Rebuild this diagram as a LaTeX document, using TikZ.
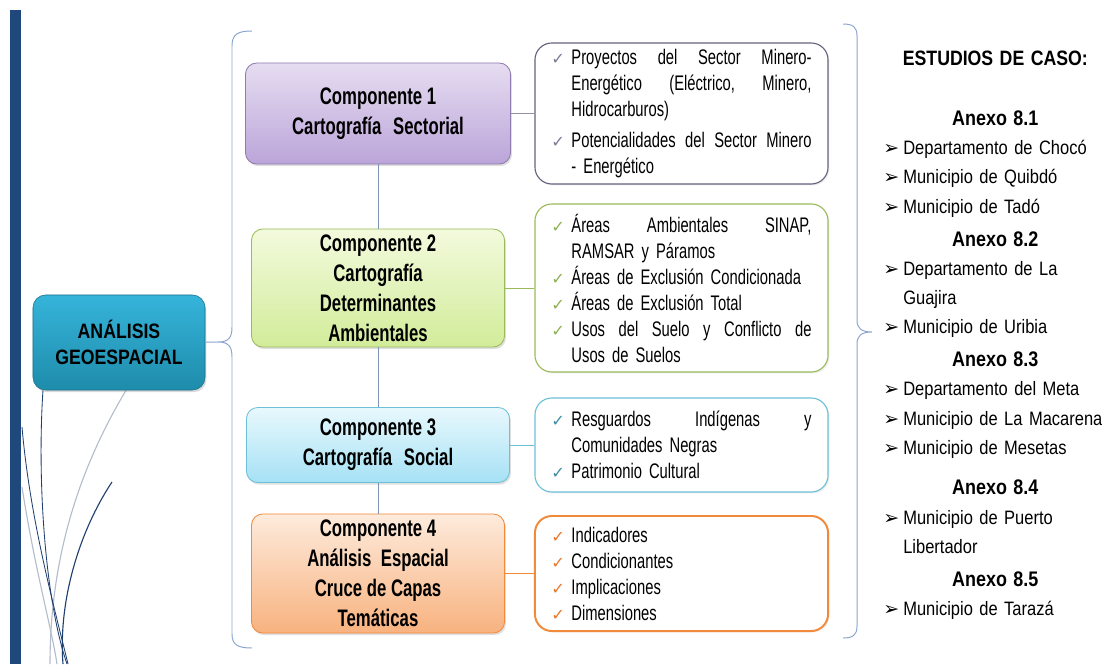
\documentclass[tikz,border=0pt]{standalone}
\usepackage{fontspec}
\setmainfont{Liberation Sans}[FakeStretch=0.7]
\newfontfamily\casofont{Liberation Sans}[FakeStretch=0.85]
\newfontfamily\symfont{DejaVu Sans}
\usetikzlibrary{shadows}

\definecolor{barblue}{HTML}{1F497D}
\definecolor{bracecol}{HTML}{8CA5CD}
\definecolor{linkcol}{HTML}{7F93B4}
\definecolor{darkcurve}{HTML}{1F3F70}
\definecolor{greycurve}{HTML}{B4BCCB}
\definecolor{geotop}{HTML}{36B4DA}
\definecolor{geobot}{HTML}{1E8CAB}
\definecolor{lilatop}{HTML}{E6DDF1}
\definecolor{lilabot}{HTML}{BBA5D9}
\definecolor{lilaline}{HTML}{8F7BAE}
\definecolor{verdetop}{HTML}{F3FADD}
\definecolor{verdebot}{HTML}{D2EC9A}
\definecolor{verdeline}{HTML}{9BBB59}
\definecolor{celestetop}{HTML}{E8F8FD}
\definecolor{celestebot}{HTML}{A6E1F5}
\definecolor{celesteline}{HTML}{6CC0D8}
\definecolor{naranjatop}{HTML}{FDEBDC}
\definecolor{naranjabot}{HTML}{F8B27F}
\definecolor{naranjaline}{HTML}{F28A3C}
\definecolor{grisline}{HTML}{66627F}
\definecolor{ckgris}{HTML}{7A7C96}
\definecolor{ckverde}{HTML}{8DB255}
\definecolor{ckteal}{HTML}{3C8EA6}
\definecolor{cknaranja}{HTML}{E8782A}

\newcommand{\chk}[1]{\makebox[0.5cm][l]{\textcolor{#1}{\symfont\fontsize{11.5}{10}\selectfont ✓}}}
\newcommand{\ind}{\makebox[0.5cm]{}}
\newcommand{\fillline}[1]{\hbox to 6cm{#1}}
\newcommand{\arr}{\makebox[0.5cm][l]{\symfont\fontsize{13.5}{10}\selectfont ➢}}
\newcommand{\anexo}[1]{\makebox[\linewidth][c]{\bfseries\fontsize{15}{21}\selectfont #1}}

\begin{document}
\begin{tikzpicture}[x=0.025cm, y=-0.025cm,
    comp/.style={rectangle, rounded corners=8pt, draw=#1, line width=0.6pt, align=center,
        inner sep=1pt, font=\fontsize{17}{21.3}\selectfont\bfseries,
        drop shadow={opacity=0.25, shadow xshift=1pt, shadow yshift=-1.5pt}},
    desc/.style={rectangle, rounded corners=12pt, draw=#1, fill=white, line width=0.8pt,
        minimum width=7.325cm, text width=6.5cm, inner xsep=0.4125cm, align=left,
        font=\fontsize{15}{18.5}\selectfont,
        drop shadow={opacity=0.15, shadow xshift=1pt, shadow yshift=-1pt}},
    brace/.style={draw=bracecol, line width=0.7pt},
    link/.style={draw=#1, line width=0.7pt}
]
    \useasboundingbox (0,0) rectangle (1102,664);

    % barra y curvas de la izquierda
    \fill[barblue] (10,10) rectangle (21,664);
    \draw[darkcurve, line width=0.6pt] (43,390) .. controls (37,480) and (45,600) .. (67,664);
    \draw[greycurve, line width=0.8pt] (128,387) .. controls (90,450) and (50,540) .. (50,664);
    \draw[darkcurve, line width=0.8pt] (112,482) .. controls (80,530) and (58,600) .. (63,664);
    \draw[darkcurve, line width=0.6pt] (22,427) .. controls (30,520) and (55,610) .. (68,664);
    \draw[greycurve, line width=0.8pt] (22,487) .. controls (35,570) and (52,630) .. (57,664);

    % nodo principal
    \node[rectangle, rounded corners=9pt, top color=geotop, bottom color=geobot, draw=geobot!80!black,
        line width=0.4pt, minimum width=4.3cm, minimum height=2.375cm, align=center,
        font=\casofont\fontsize{14.8}{19}\selectfont\bfseries,
        drop shadow={opacity=0.3, shadow xshift=1pt, shadow yshift=-1.5pt}]
        (geo) at (119,342.5) {ANÁLISIS\\GEOESPACIAL};

    % llaves
    \coordinate (lt) at (218,342);
    \draw[brace] (252,31) .. controls (238,31) and (232,34) .. (232,46) -- (232,327)
        .. controls (232,337) and (229,342) .. (lt) .. controls (229,342) and (232,347) .. (232,357)
        -- (232,634) .. controls (232,645) and (238,648) .. (252,648);
    \draw[brace] (843,24) .. controls (853,24) and (857,27) .. (857,36) -- (857,320)
        .. controls (857,328) and (861,332) .. (872,332) .. controls (861,332) and (857,336) .. (857,344)
        -- (857,626) .. controls (857,635) and (853,638) .. (843,638);
    \draw[brace] (geo) -- (lt);

    % componentes
    \node[comp=lilaline, top color=lilatop, bottom color=lilabot, minimum width=6.625cm, minimum height=2.525cm]
        (c1) at (378,113.5) {Componente 1\\Cartografía\hspace{0.3em} Sectorial};
    \node[comp=verdeline, top color=verdetop, bottom color=verdebot, minimum width=6.325cm, minimum height=2.95cm]
        (c2) at (378,288) {Componente 2\\Cartografía\\Determinantes\\Ambientales};
    \node[comp=celesteline, top color=celestetop, bottom color=celestebot, minimum width=6.575cm, minimum height=1.875cm]
        (c3) at (378,445) {Componente 3\\Cartografía\hspace{0.3em} Social};
    \node[comp=naranjaline, top color=naranjatop, bottom color=naranjabot, minimum width=6.325cm, minimum height=2.975cm]
        (c4) at (378,573.5) {Componente 4\\Análisis\hspace{0.2em} Espacial\\Cruce de Capas\\Temáticas};

    % descripciones
    \node[desc=grisline, minimum height=3.525cm] (d1) at (681.5,113.5) {%
        \chk{ckgris}\fillline{Proyectos\hfill del\hfill Sector\hfill Minero-}\\
        \ind\fillline{Energético\hfill (Eléctrico,\hfill Minero,}\\
        \ind Hidrocarburos)\\[3pt]
        \chk{ckgris}\fillline{Potencialidades\hfill del\hfill Sector\hfill Minero}\\
        \ind - Energético};
    \node[desc=verdeline, minimum height=4.2cm] (d2) at (681.5,288) {%
        \chk{ckverde}\fillline{Áreas\hfill Ambientales\hfill SINAP,}\\
        \ind RAMSAR y Páramos\\
        \chk{ckverde}Áreas de Exclusión Condicionada\\
        \chk{ckverde}Áreas de Exclusión Total\\
        \chk{ckverde}\fillline{Usos\hfill del\hfill Suelo\hfill y\hfill Conflicto\hfill de}\\
        \ind Usos de Suelos};
    \node[desc=celesteline, minimum height=2.35cm] (d3) at (681.5,445) {%
        \chk{ckteal}\fillline{Resguardos\hfill Indígenas\hfill y}\\
        \ind Comunidades Negras\\
        \chk{ckteal}Patrimonio Cultural};
    \node[desc=naranjaline, line width=1.4pt, minimum height=2.875cm] (d4) at (681.5,573.5) {%
        \chk{cknaranja}Indicadores\\
        \chk{cknaranja}Condicionantes\\
        \chk{cknaranja}Implicaciones\\
        \chk{cknaranja}Dimensiones};

    % conectores
    \draw[link=linkcol] (c1) -- (c2) (c2) -- (c3) (c3) -- (c4);
    \draw[link=grisline!70] (c1) -- (d1);
    \draw[link=verdeline] (c2) -- (d2);
    \draw[link=celesteline] (c3) -- (d3);
    \draw[link=naranjaline] (c4) -- (d4);

    % estudios de caso
    \node[anchor=north west, inner sep=0pt, text width=5.6cm, align=left,
        font=\casofont\fontsize{13.8}{20.8}\selectfont] (casos) at (883,50.5) {%
        \makebox[\linewidth][c]{\bfseries\fontsize{14.8}{21}\selectfont ESTUDIOS DE CASO:}\\[22pt]
        \anexo{Anexo 8.1}\\
        \arr Departamento de Chocó\\
        \arr Municipio de Quibdó\\
        \arr Municipio de Tadó\\[2.5pt]
        \anexo{Anexo 8.2}\\
        \arr Departamento de La\\
        \ind Guajira\\
        \arr Municipio de Uribia\\[2.5pt]
        \anexo{Anexo 8.3}\\
        \arr Departamento del Meta\\
        \arr Municipio de La Macarena\\
        \arr Municipio de Mesetas\\[8pt]
        \anexo{Anexo 8.4}\\
        \arr Municipio de Puerto\\
        \ind Libertador\\[2.5pt]
        \anexo{Anexo 8.5}\\
        \arr Municipio de Tarazá};
\end{tikzpicture}
\end{document}
